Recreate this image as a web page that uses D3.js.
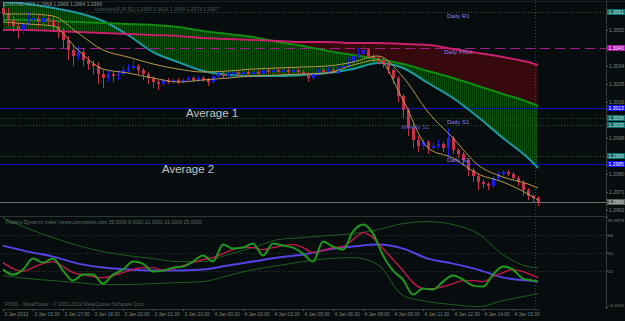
<!DOCTYPE html>
<html>
<head>
<meta charset="utf-8">
<script src="https://cdn.jsdelivr.net/npm/d3@7"></script>
<style>
  body { margin: 0; background: #070d0f; }
  svg { display: block; font-family: "Liberation Sans", Arial, sans-serif; }
</style>
</head>
<body>
<svg id="chart" width="625" height="321"></svg>
<script>
// ---- candles (EURUSD M15) ----
var symbol = "EURUSD,M15";
var opens = [
  1.3063,1.3060,1.3057,1.3054,1.3052,1.3055,1.3057,1.3058,1.3056,1.3058,
  1.3057,1.3054,1.3051,1.3047,1.3042,1.3039,1.3041,1.3037,1.3035,1.3034,
  1.3030,1.3028,1.3030,1.3029,1.3030,1.3032,1.3033,1.3034,1.3032,1.3030,
  1.3028,1.3026,1.3025,1.3027,1.3026,1.3027,1.3026,1.3027,1.3028,1.3027,
  1.3028,1.3027,1.3026,1.3029,1.3030,1.3029,1.3030,1.3031,1.3030,1.3031,
  1.3030,1.3031,1.3030,1.3032,1.3031,1.3032,1.3031,1.3032,1.3031,1.3032,
  1.3031,1.3030,1.3028,1.3030,1.3032,1.3031,1.3032,1.3031,1.3033,1.3034,
  1.3036,1.3039,1.3040,1.3042,1.3039,1.3038,1.3037,1.3035,1.3032,1.3028,
  1.3019,1.3012,1.3003,1.2997,1.2994,1.2996,1.2993,1.2994,1.2995,1.2993,
  1.2998,1.2992,1.2990,1.2987,1.2982,1.2979,1.2976,1.2975,1.2974,1.2978,
  1.2980,1.2981,1.2980,1.2978,1.2976,1.2972,1.2969,1.2968];
var closes = [
  1.3060,1.3057,1.3054,1.3052,1.3055,1.3057,1.3058,1.3056,1.3058,1.3057,
  1.3054,1.3051,1.3047,1.3042,1.3039,1.3041,1.3037,1.3035,1.3034,1.3030,
  1.3028,1.3030,1.3029,1.3030,1.3032,1.3033,1.3034,1.3032,1.3030,1.3028,
  1.3026,1.3025,1.3027,1.3026,1.3027,1.3026,1.3027,1.3028,1.3027,1.3028,
  1.3027,1.3026,1.3029,1.3030,1.3029,1.3030,1.3031,1.3030,1.3031,1.3030,
  1.3031,1.3030,1.3032,1.3031,1.3032,1.3031,1.3032,1.3031,1.3032,1.3031,
  1.3030,1.3028,1.3030,1.3032,1.3031,1.3032,1.3031,1.3033,1.3034,1.3036,
  1.3039,1.3040,1.3042,1.3039,1.3038,1.3037,1.3035,1.3032,1.3028,1.3019,
  1.3012,1.3003,1.2997,1.2994,1.2996,1.2993,1.2994,1.2995,1.2993,1.2998,
  1.2992,1.2990,1.2987,1.2982,1.2979,1.2976,1.2975,1.2974,1.2978,1.2980,
  1.2981,1.2980,1.2978,1.2976,1.2972,1.2969,1.2968,1.2966];
var highs = [
  1.3066,1.3063,1.3059,1.3056,1.3058,1.3061,1.3062,1.3060,1.3061,1.3060,
  1.3059,1.3056,1.3053,1.3049,1.3044,1.3044,1.3043,1.3039,1.3037,1.3036,
  1.3032,1.3032,1.3031,1.3032,1.3034,1.3035,1.3037,1.3035,1.3033,1.3031,
  1.3029,1.3027,1.3028,1.3028,1.3028,1.3028,1.3028,1.3029,1.3029,1.3029,
  1.3029,1.3028,1.3030,1.3031,1.3031,1.3031,1.3032,1.3032,1.3033,1.3032,
  1.3032,1.3032,1.3033,1.3033,1.3033,1.3033,1.3033,1.3033,1.3033,1.3033,
  1.3032,1.3031,1.3031,1.3033,1.3033,1.3034,1.3033,1.3034,1.3036,1.3038,
  1.3041,1.3043,1.3044,1.3043,1.3040,1.3039,1.3038,1.3036,1.3033,1.3029,
  1.3020,1.3013,1.3005,1.2999,1.2998,1.2997,1.2996,1.2997,1.2996,1.3003,
  1.2999,1.2993,1.2991,1.2988,1.2983,1.2980,1.2977,1.2976,1.2979,1.2981,
  1.2982,1.2982,1.2981,1.2979,1.2977,1.2973,1.2970,1.2969];
var lows = [
  1.3057,1.3054,1.3051,1.3048,1.3050,1.3054,1.3055,1.3053,1.3055,1.3054,
  1.3051,1.3048,1.3043,1.3037,1.3034,1.3037,1.3034,1.3032,1.3030,1.3025,
  1.3023,1.3026,1.3026,1.3027,1.3029,1.3031,1.3032,1.3030,1.3027,1.3025,
  1.3023,1.3022,1.3024,1.3025,1.3025,1.3025,1.3025,1.3026,1.3026,1.3026,
  1.3026,1.3024,1.3025,1.3028,1.3028,1.3028,1.3029,1.3029,1.3029,1.3029,
  1.3029,1.3029,1.3029,1.3030,1.3030,1.3030,1.3030,1.3030,1.3030,1.3030,
  1.3029,1.3026,1.3027,1.3029,1.3030,1.3030,1.3030,1.3030,1.3032,1.3033,
  1.3035,1.3038,1.3039,1.3038,1.3036,1.3035,1.3033,1.3030,1.3025,1.3016,
  1.3008,1.2999,1.2993,1.2991,1.2992,1.2990,1.2992,1.2993,1.2991,1.2988,
  1.2990,1.2988,1.2984,1.2979,1.2976,1.2972,1.2973,1.2972,1.2973,1.2977,
  1.2979,1.2979,1.2977,1.2974,1.2969,1.2967,1.2966,1.2964];

// ---- overlay lines, one value every 5 bars (last one = last bar) ----
var tealLine  = [1.3066,1.3065,1.3063,1.30605,1.30565,1.30495,1.3041,1.3036,1.30315,1.30295,1.3029,1.3029,
                 1.30295,1.30305,1.30325,1.30355,1.3033,1.30255,1.3018,1.30085,1.2998,1.2988,1.2983];
var spanA     = [1.3057,1.3057,1.30565,1.3056,1.30555,1.3055,1.30545,1.30535,1.30515,1.3050,1.30485,1.3046,
                 1.3044,1.30415,1.30395,1.30375,1.3035,1.30315,1.3028,1.3024,1.3020,1.3016,1.3014];
var spanB     = [1.3052,1.3052,1.30515,1.3051,1.30505,1.3050,1.30495,1.3049,1.3048,1.30475,1.3047,1.30465,
                 1.3046,1.3046,1.30455,1.30455,1.3045,1.30445,1.30425,1.30405,1.30385,1.3036,1.30345];
var maHigh    = [1.3060,1.3060,1.3059,1.30505,1.3042,1.30385,1.3035,1.30325,1.3031,1.30315,1.30325,1.3033,
                 1.30335,1.3034,1.3036,1.3039,1.30285,1.3011,1.2998,1.29845,1.29785,1.2975,1.2973];
var maLow     = [1.3056,1.3055,1.3054,1.3042,1.30325,1.30305,1.3028,1.3026,1.3027,1.3028,1.3029,1.30295,
                 1.3030,1.30305,1.30345,1.3037,1.3017,1.2993,1.2988,1.2980,1.2976,1.2970,1.2967];

// ---- horizontal levels ----
var pivotNames  = ["Daily R1", "Daily Pivot", "Weekly S1", "Daily S1", "Daily S2"];
var pivotPrices = [1.3061, 1.3043, 1.30045, 1.3008, 1.2989];
var avgNames    = ["Average 1", "Average 2"];
var avgPrices   = [1.3013, 1.2985];
var priceTicks  = [1.2962, 1.2971, 1.2980, 1.2998, 1.3016, 1.3025, 1.3034, 1.3052];

// ---- Traders Dynamic Index (green/red every 2 bars, rest every 5 bars) ----
var tdiPrice  = [33,28,33,44,40,44,32,22,28,28,19,28,33,41,39,31,32,35,36,41,47,41,58,54,55,59,47,59,57,55,
                 49,41,61,56,53,71,78,69,47,32,23,8,14,13,21,27,23,17,16,28,36,33,24,22,21];
var tdiSignal = [40,34,31,35,39,41,36,30,28,26,25,27,30,33,35,35,32,34,37,40,43,45,49,53,55,55,53,55,57,58,
                 55,50,52,55,56,63,70,65,54,43,32,20,14,14,16,19,22,22,21,26,30,33,31,27,25];
var tdiBase   = [57,51,46,39,35,33,32,32,33,37,41,45,48,53,56,58,54,44,39,33,25,22,21];
var tdiUpper  = [85,74,65,57,51,47,44,41,41,48,55,63,65,67,69,73,79,81,78,69,48,36,35];
var tdiLower  = [27,24,22,20,18,18,19,20,21,27,33,37,41,44,45,38,7,1,-2,-4,2,7,9];
var tdiLevels = [68, 50, 32];
var tdiRange  = [-4.37, 85.5879];

// bar times: M15 bars starting 3 Jan 2013 14:00
var barTimes = closes.map(function(d, i) { return new Date(2013, 0, 3, 14, i * 15); });
var nBars = closes.length;
var lineIdx = d3.range(0, nBars - 2, 5).concat([nBars - 1]);
var tdiIdx = d3.range(0, nBars - 1, 2).concat([nBars - 1]);

var svg = d3.select("#chart");
var plotRight = 606;

var x = d3.scaleTime().domain([barTimes[0], barTimes[nBars - 1]]).range([3, 538]);
var y = d3.scaleLinear().domain([1.29595, 1.3067]).range([215, 0]);
var yT = d3.scaleLinear().domain(tdiRange).range([307, 217]);
var xi = function(i) { return x(barTimes[i]); };
var fmt4 = d3.format(".4f");

var defs = svg.append("defs");
defs.append("clipPath").attr("id", "mainClip")
    .append("rect").attr("x", 0).attr("y", 0).attr("width", plotRight).attr("height", 215);
defs.append("clipPath").attr("id", "subClip")
    .append("rect").attr("x", 0).attr("y", 217).attr("width", plotRight).attr("height", 91);
var pat = defs.append("pattern").attr("id", "hatch")
    .attr("patternUnits", "userSpaceOnUse").attr("width", 2).attr("height", 4);
pat.append("rect").attr("width", 2).attr("height", 4).attr("fill", "#052206");
pat.append("rect").attr("width", 1).attr("height", 4).attr("fill", "#0c4e0e");

svg.append("rect").attr("width", 625).attr("height", 321).attr("fill", "#070d0f");

var main = svg.append("g").attr("clip-path", "url(#mainClip)");

// cloud fills
var cloud = lineIdx.map(function(i, k) {
    return {i: i, teal: tealLine[k], a: spanA[k], b: spanB[k]};
});
var curve = d3.curveMonotoneX;
main.append("path").datum(cloud)
    .attr("fill", "#360a0d")
    .attr("d", d3.area().curve(curve).x(function(d) { return xi(d.i); })
        .y0(function(d) { return y(d.a); })
        .y1(function(d) { return y(Math.max(d.a, d.b)); }));
main.append("path").datum(cloud)
    .attr("fill", "url(#hatch)")
    .attr("d", d3.area().curve(curve).x(function(d) { return xi(d.i); })
        .y0(function(d) { return y(d.b); })
        .y1(function(d) { return y(Math.max(d.a, d.b)); }));
main.append("path").datum(cloud)
    .attr("fill", "url(#hatch)")
    .attr("d", d3.area().curve(curve).x(function(d) { return xi(d.i); })
        .y0(function(d) { return y(d.a); })
        .y1(function(d) { return y(d.teal); }));

// horizontal levels
var levels = main.append("g");
pivotPrices.forEach(function(p, k) {
    var isPivot = pivotNames[k] == "Daily Pivot";
    levels.append("line")
        .attr("x1", 0).attr("x2", plotRight)
        .attr("y1", Math.round(y(p)) + 0.5).attr("y2", Math.round(y(p)) + 0.5)
        .attr("stroke", isPivot ? "#a01c8c" : (k == 0 ? "#34503c" : "#1c6020"))
        .attr("stroke-dasharray", isPivot ? "10,5" : "1,2");
});
avgPrices.forEach(function(p) {
    levels.append("line")
        .attr("x1", 0).attr("x2", plotRight)
        .attr("y1", Math.round(y(p)) + 0.5).attr("y2", Math.round(y(p)) + 0.5)
        .attr("stroke", "#1010b8");
});
var lastClose = closes[nBars - 1];
levels.append("line")
    .attr("x1", 0).attr("x2", plotRight)
    .attr("y1", Math.round(y(lastClose)) + 0.5).attr("y2", Math.round(y(lastClose)) + 0.5)
    .attr("stroke", "#6e6e6e");

// cloud lines
function priceLine(values, color, width) {
    main.append("path")
        .datum(lineIdx.map(function(i, k) { return [i, values[k]]; }))
        .attr("fill", "none").attr("stroke", color).attr("stroke-width", width)
        .attr("d", d3.line().curve(curve)
            .x(function(d) { return xi(d[0]); })
            .y(function(d) { return y(d[1]); }));
}
priceLine(tealLine, "#1d9aa2", 2);
priceLine(spanA, "#138a13", 2);
priceLine(spanB, "#c8206c", 2);

// candles
var bars = main.append("g");
var idx = d3.range(nBars);
bars.selectAll("line.wick").data(idx).join("line")
    .attr("class", "wick")
    .attr("x1", function(i) { return Math.round(xi(i)) + 0.5; })
    .attr("x2", function(i) { return Math.round(xi(i)) + 0.5; })
    .attr("y1", function(i) { return y(highs[i]); })
    .attr("y2", function(i) { return y(lows[i]); })
    .attr("stroke", function(i) { return closes[i] >= opens[i] ? "#1c1cf0" : "#c8304a"; });
bars.selectAll("rect.body").data(idx).join("rect")
    .attr("class", "body")
    .attr("x", function(i) { return Math.round(xi(i)) - 1; })
    .attr("width", 3)
    .attr("y", function(i) { return y(Math.max(opens[i], closes[i])); })
    .attr("height", function(i) { return Math.max(1, Math.abs(y(opens[i]) - y(closes[i]))); })
    .attr("fill", function(i) { return closes[i] >= opens[i] ? "#1c1cf0" : "#c8304a"; });

priceLine(maHigh, "#b89a48", 1);
priceLine(maLow, "#b89a48", 1);

// level captions
pivotNames.forEach(function(name, k) {
    var weekly = name.indexOf("Weekly") == 0;
    main.append("text")
        .attr("x", weekly ? 401 : (name == "Daily Pivot" ? 444 : 447))
        .attr("y", y(pivotPrices[k]) + (weekly ? 4 : 6))
        .attr("fill", weekly ? "#6a5ec0" : "#8c7ef0")
        .attr("font-size", "6px")
        .text(name);
});
var avgX = [186, 162];
avgNames.forEach(function(name, k) {
    main.append("text")
        .attr("x", avgX[k]).attr("y", y(avgPrices[k]) + 8.5)
        .attr("fill", "#c4c4c4").attr("font-size", "11.5px")
        .text(name);
});

// header
svg.append("text").attr("x", 3).attr("y", 6).attr("font-size", "5px").attr("fill", "#8c9494")
    .text(symbol + "  " + [opens[nBars - 1], highs[nBars - 1], lows[nBars - 1], closes[nBars - 1]].map(fmt4).join(" "));
svg.append("text").attr("x", 95).attr("y", 11).attr("font-size", "5px").attr("fill", "#48585a")
    .text("Ichimoku(9,26,52)  " + [tealLine[22], spanA[22], spanB[22], maHigh[22], maLow[22]].map(fmt4).join("  "));

// ---- sub window ----
var sub = svg.append("g").attr("clip-path", "url(#subClip)");
tdiLevels.forEach(function(v) {
    sub.append("line").attr("x1", 0).attr("x2", plotRight)
        .attr("y1", Math.round(yT(v)) + 0.5).attr("y2", Math.round(yT(v)) + 0.5)
        .attr("stroke", "#2c3630").attr("stroke-dasharray", "1,2");
});
function tdiLine(values, index, color, width) {
    sub.append("path")
        .datum(index.map(function(i, k) { return [i, values[k]]; }))
        .attr("fill", "none").attr("stroke", color).attr("stroke-width", width)
        .attr("d", d3.line().curve(curve)
            .x(function(d) { return xi(d[0]); })
            .y(function(d) { return yT(d[1]); }));
}
tdiLine(tdiUpper, lineIdx, "#1d5e1d", 1);
tdiLine(tdiLower, lineIdx, "#1d5e1d", 1);
tdiLine(tdiBase, lineIdx, "#5444e6", 2);
tdiLine(tdiSignal, tdiIdx, "#c8184a", 1.4);
tdiLine(tdiPrice, tdiIdx, "#1f9a1f", 2);

svg.append("text").attr("x", 5).attr("y", 224).attr("font-size", "5px").attr("fill", "#5c6c66")
    .text("Traders Dynamic Index | www.compassfx.com   " +
        [tdiUpper[22], tdiLower[22], tdiBase[22], tdiPrice[54], tdiSignal[54]].map(fmt4).join(" "));
svg.append("text").attr("x", 5).attr("y", 306).attr("font-size", "5px").attr("fill", "#52605e")
    .text("FXDD - MetaTrader - \u00a9 2001-2012 MetaQuotes Software Corp.");

// current bar marker
svg.append("line").attr("x1", Math.round(xi(nBars - 1)) - 2.5).attr("x2", Math.round(xi(nBars - 1)) - 2.5)
    .attr("y1", 0).attr("y2", 309)
    .attr("stroke", "#3c4446").attr("stroke-dasharray", "1,2");

// frame
svg.append("line").attr("x1", plotRight + 0.5).attr("x2", plotRight + 0.5).attr("y1", 0).attr("y2", 309).attr("stroke", "#34393a");
svg.append("line").attr("x1", 0).attr("x2", plotRight).attr("y1", 216.5).attr("y2", 216.5).attr("stroke", "#2e3434");
svg.append("line").attr("x1", 0).attr("x2", 625).attr("y1", 1.5).attr("y2", 1.5).attr("stroke", "#1c2224");

// price axis
var yAxis = svg.append("g").attr("transform", "translate(" + plotRight + ",0)")
    .call(d3.axisRight(y).tickValues(priceTicks).tickSize(2).tickFormat(fmt4));
yAxis.select(".domain").remove();
yAxis.selectAll("line").attr("stroke", "#55595a");
yAxis.selectAll("text").attr("fill", "#7c8484").attr("font-size", "5px").attr("x", 3)
    .attr("font-family", "Liberation Sans, Arial, sans-serif");

// coloured price boxes
var boxes = [
    {p: pivotPrices[0], fill: "#0c6e6c", color: "#d0e8e8"},
    {p: pivotPrices[1], fill: "#b010b0", color: "#ffffff"},
    {p: avgPrices[0], fill: "#1010f0", color: "#ffffff"},
    {p: pivotPrices[3], fill: "#0c6e6c", color: "#d0e8e8"},
    {p: pivotPrices[2], fill: "#0c6e6c", color: "#d0e8e8"},
    {p: pivotPrices[4], fill: "#0c6e6c", color: "#d0e8e8"},
    {p: avgPrices[1], fill: "#1010f0", color: "#ffffff"},
    {p: lastClose, fill: "#5a5f60", color: "#e0e0e0"}
];
var bx = svg.append("g").selectAll("g").data(boxes).join("g")
    .attr("transform", function(d) { return "translate(" + (plotRight + 1) + "," + Math.round(y(d.p)) + ")"; });
bx.append("rect").attr("x", 0).attr("y", -3).attr("width", 18).attr("height", 6)
    .attr("fill", function(d) { return d.fill; });
bx.append("text").attr("x", 1.5).attr("y", 1.8).attr("font-size", "5px")
    .attr("fill", function(d) { return d.color; })
    .text(function(d) { return fmt4(d.p); });

// indicator axis
var tAxis = svg.append("g").attr("transform", "translate(" + plotRight + ",0)")
    .call(d3.axisRight(yT).tickValues(tdiLevels.concat([tdiRange[1], tdiRange[0]])).tickSize(2)
        .tickFormat(function(d) { return tdiLevels.indexOf(d) >= 0 ? d : fmt4(d); }));
tAxis.select(".domain").remove();
tAxis.selectAll("line").attr("stroke", "#55595a");
tAxis.selectAll("text").attr("fill", "#7c8484").attr("font-size", "4.4px").attr("x", 2)
    .attr("font-family", "Liberation Sans, Arial, sans-serif")
    .attr("dy", function(d) { return d == tdiRange[1] ? "1.1em" : (d == tdiRange[0] ? "-0.2em" : "0.32em"); });

// time axis
var timeTicks = d3.range(0, nBars, 6).map(function(i) { return barTimes[i]; });
var fmtTime = d3.timeFormat("%-d %b %H:%M");
var xAxis = svg.append("g").attr("transform", "translate(0,309)")
    .call(d3.axisBottom(x).tickValues(timeTicks).tickSize(2)
        .tickFormat(function(d, k) { return k == 0 ? d3.timeFormat("%-d %b %Y")(d) : fmtTime(d); }));
xAxis.select(".domain").attr("stroke", "#34393a");
xAxis.selectAll("line").attr("stroke", "#55595a");
xAxis.selectAll("text").attr("fill", "#7c8484").attr("font-size", "4.8px")
    .attr("text-anchor", "start").attr("x", 1).attr("y", 4)
    .attr("font-family", "Liberation Sans, Arial, sans-serif");
</script>
</body>
</html>
